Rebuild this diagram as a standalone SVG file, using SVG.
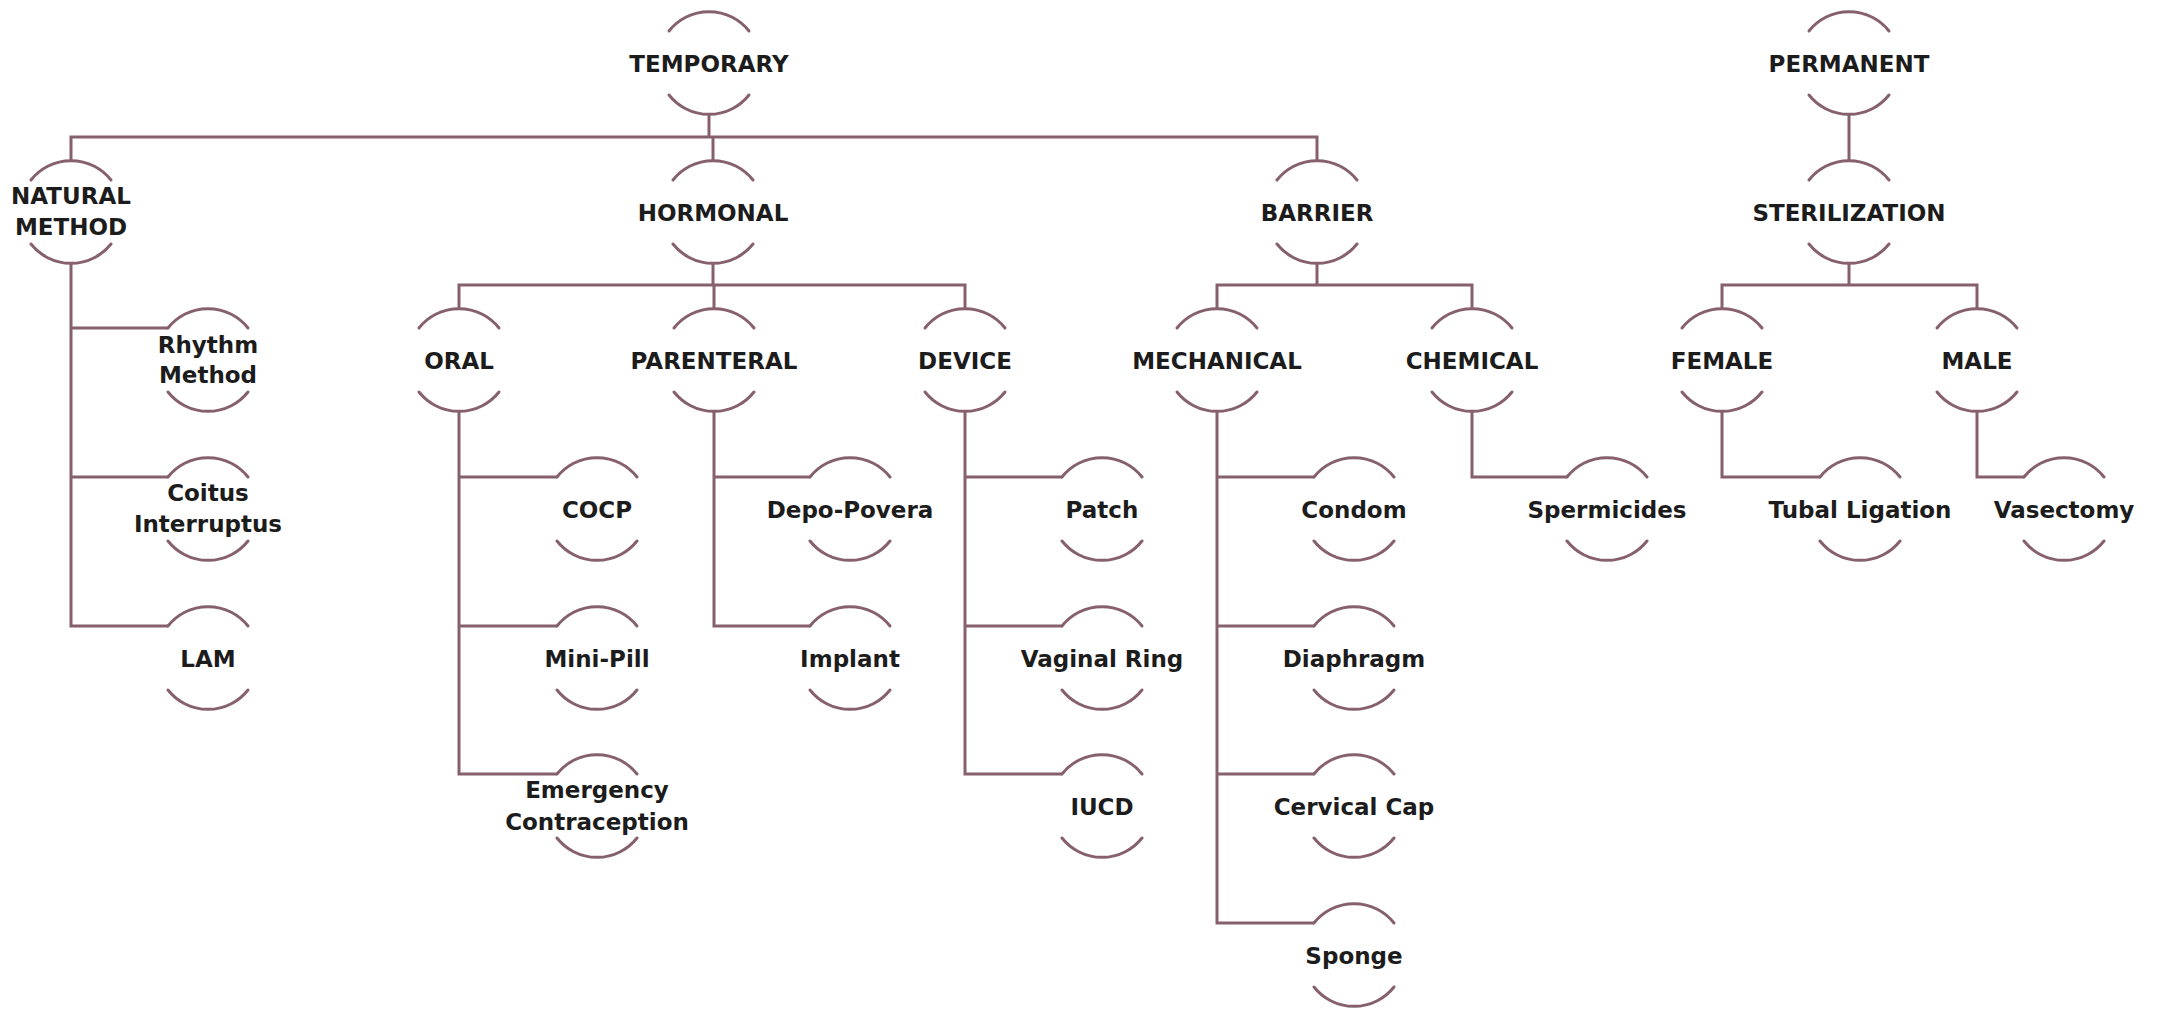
<svg xmlns="http://www.w3.org/2000/svg" width="2162" height="1012" viewBox="0 0 2162 1012">
<defs>
<style>
.arc{fill:none;stroke:#86606e;stroke-width:3;stroke-linecap:round}
.ln{fill:none;stroke:#86606e;stroke-width:3;stroke-linejoin:miter}
text{font-family:"DejaVu Sans","Liberation Sans",sans-serif;font-weight:bold;font-size:23px;fill:#1c1c1c;text-anchor:middle}
</style>
<path id="cap" class="arc" d="M-40,-32 A51,51 0 0 1 40,-32 M-40,32 A51,51 0 0 0 40,32"/>
</defs>
<rect width="2162" height="1012" fill="#ffffff"/>
<g id="connectors">
<path class="ln" d="M709,114 V137 M71,161 V137 H1317 V161 M713,137 V161"/>
<path class="ln" d="M1849,114 V161"/>
<path class="ln" d="M713,263 V285 M459,309 V285 H965 V309 M714,285 V309"/>
<path class="ln" d="M1317,263 V285 M1217,309 V285 H1472 V309"/>
<path class="ln" d="M1849,263 V285 M1722,309 V285 H1977 V309"/>
<path class="ln" d="M71,263 V626 H168 M71,328 H168 M71,477 H168"/>
<path class="ln" d="M459,411 V774 H557 M459,477 H557 M459,626 H557"/>
<path class="ln" d="M714,411 V626 H810 M714,477 H810"/>
<path class="ln" d="M965,411 V774 H1062 M965,477 H1062 M965,626 H1062"/>
<path class="ln" d="M1217,411 V923 H1314 M1217,477 H1314 M1217,626 H1314 M1217,774 H1314"/>
<path class="ln" d="M1472,411 V477 H1567"/>
<path class="ln" d="M1722,411 V477 H1820"/>
<path class="ln" d="M1977,411 V477 H2024"/>
</g>
<g id="temporary"><use href="#cap" x="709" y="63"/><text x="709" y="72">TEMPORARY</text></g>
<g id="permanent"><use href="#cap" x="1849" y="63"/><text x="1849" y="72">PERMANENT</text></g>
<g id="natural"><use href="#cap" x="71" y="212"/><text x="71" y="204">NATURAL</text><text x="71" y="235">METHOD</text></g>
<g id="hormonal"><use href="#cap" x="713" y="212"/><text x="713" y="221">HORMONAL</text></g>
<g id="barrier"><use href="#cap" x="1317" y="212"/><text x="1317" y="221">BARRIER</text></g>
<g id="sterilization"><use href="#cap" x="1849" y="212"/><text x="1849" y="221">STERILIZATION</text></g>
<g id="oral"><use href="#cap" x="459" y="360"/><text x="459" y="369">ORAL</text></g>
<g id="parenteral"><use href="#cap" x="714" y="360"/><text x="714" y="369">PARENTERAL</text></g>
<g id="device"><use href="#cap" x="965" y="360"/><text x="965" y="369">DEVICE</text></g>
<g id="mechanical"><use href="#cap" x="1217" y="360"/><text x="1217" y="369">MECHANICAL</text></g>
<g id="chemical"><use href="#cap" x="1472" y="360"/><text x="1472" y="369">CHEMICAL</text></g>
<g id="female"><use href="#cap" x="1722" y="360"/><text x="1722" y="369">FEMALE</text></g>
<g id="male"><use href="#cap" x="1977" y="360"/><text x="1977" y="369">MALE</text></g>
<g id="rhythm"><use href="#cap" x="208" y="360"/><text x="208" y="353">Rhythm</text><text x="208" y="383">Method</text></g>
<g id="coitus"><use href="#cap" x="208" y="509"/><text x="208" y="501">Coitus</text><text x="208" y="532">Interruptus</text></g>
<g id="lam"><use href="#cap" x="208" y="658"/><text x="208" y="667">LAM</text></g>
<g id="cocp"><use href="#cap" x="597" y="509"/><text x="597" y="518">COCP</text></g>
<g id="minipill"><use href="#cap" x="597" y="658"/><text x="597" y="667">Mini-Pill</text></g>
<g id="emergency"><use href="#cap" x="597" y="806"/><text x="597" y="798">Emergency</text><text x="597" y="830">Contraception</text></g>
<g id="depo"><use href="#cap" x="850" y="509"/><text x="850" y="518">Depo-Povera</text></g>
<g id="implant"><use href="#cap" x="850" y="658"/><text x="850" y="667">Implant</text></g>
<g id="patch"><use href="#cap" x="1102" y="509"/><text x="1102" y="518">Patch</text></g>
<g id="vaginal"><use href="#cap" x="1102" y="658"/><text x="1102" y="667">Vaginal Ring</text></g>
<g id="iucd"><use href="#cap" x="1102" y="806"/><text x="1102" y="815">IUCD</text></g>
<g id="condom"><use href="#cap" x="1354" y="509"/><text x="1354" y="518">Condom</text></g>
<g id="diaphragm"><use href="#cap" x="1354" y="658"/><text x="1354" y="667">Diaphragm</text></g>
<g id="cervical"><use href="#cap" x="1354" y="806"/><text x="1354" y="815">Cervical Cap</text></g>
<g id="sponge"><use href="#cap" x="1354" y="955"/><text x="1354" y="964">Sponge</text></g>
<g id="spermicides"><use href="#cap" x="1607" y="509"/><text x="1607" y="518">Spermicides</text></g>
<g id="tubal"><use href="#cap" x="1860" y="509"/><text x="1860" y="518">Tubal Ligation</text></g>
<g id="vasectomy"><use href="#cap" x="2064" y="509"/><text x="2064" y="518">Vasectomy</text></g>
</svg>
